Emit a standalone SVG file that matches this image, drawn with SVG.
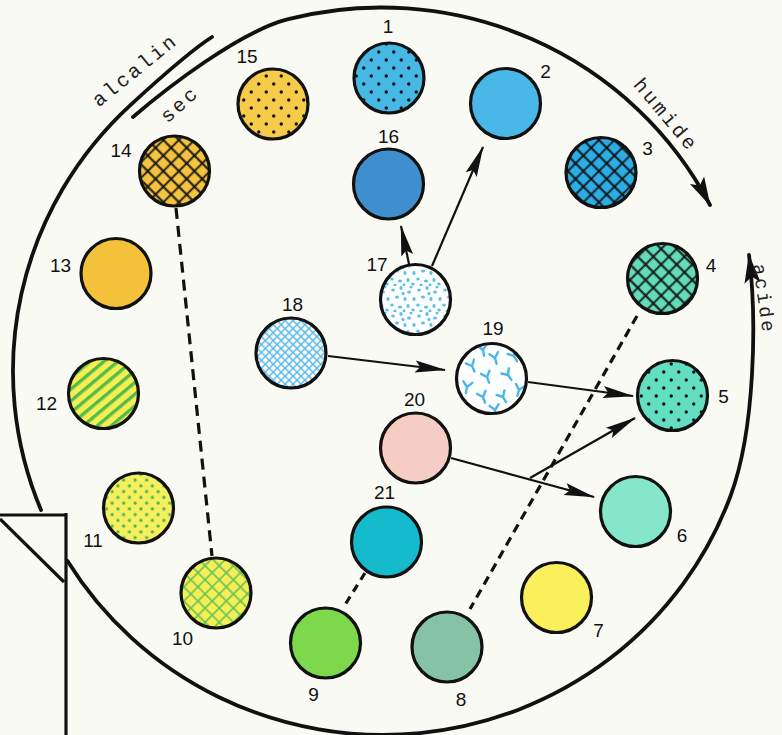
<svg xmlns="http://www.w3.org/2000/svg" width="782" height="735" viewBox="0 0 782 735">
<style>
.ring{fill:none;stroke:#111;stroke-width:3.8;stroke-linecap:round}
.node{stroke:#111;stroke-width:3.2}
.edge{fill:none;stroke:#111;stroke-width:3.2}
.num{font-family:"Liberation Sans",Arial,sans-serif;font-size:19px;fill:#111;text-anchor:middle}
.word{font-family:"Liberation Mono","Courier New",monospace;font-size:20px;fill:#222;letter-spacing:2.8px;text-anchor:middle}
.arrow{fill:none;stroke:#111;stroke-width:2.2;marker-end:url(#ah)}
.dash{fill:none;stroke:#111;stroke-width:3.2}
.ym{fill:none;stroke:#4BB6E8;stroke-width:2.4;stroke-linecap:round;stroke-linejoin:round}
</style>
<defs>
<marker id="ah" markerUnits="userSpaceOnUse" viewBox="-32 -8 34 16" refX="0" refY="0" markerWidth="34" markerHeight="16" orient="auto">
<path d="M1,0 L-30,-6 L-25,0 L-30,6 Z" fill="#111"/>
</marker>
<marker id="ahBig" markerUnits="userSpaceOnUse" viewBox="-30 -10 32 20" refX="0" refY="0" markerWidth="32" markerHeight="20" orient="auto">
<path d="M1,0 L-28,-8 L-22,0 L-28,8 Z" fill="#111"/>
</marker>
<pattern id="dotsK" patternUnits="userSpaceOnUse" width="15" height="16">
<circle cx="3.75" cy="4" r="1.7" fill="#111"/><circle cx="11.25" cy="12" r="1.7" fill="#111"/>
</pattern>
<pattern id="hatchK" patternUnits="userSpaceOnUse" width="11" height="11" patternTransform="rotate(45)">
<path d="M0,5.5 H11 M5.5,0 V11" stroke="#111" stroke-width="1.8"/>
</pattern>
<pattern id="hatchG" patternUnits="userSpaceOnUse" width="10" height="10" patternTransform="rotate(45)">
<path d="M0,5 H10 M5,0 V10" stroke="#5CC05A" stroke-width="1.5"/>
</pattern>
<pattern id="stripeG" patternUnits="userSpaceOnUse" width="9" height="9" patternTransform="rotate(-40)">
<rect x="0" y="0" width="9" height="3.4" fill="#55BB47"/>
</pattern>
<pattern id="dotsG" patternUnits="userSpaceOnUse" width="11.5" height="11.5">
<circle cx="2.9" cy="2.9" r="1.7" fill="#4CB648"/><circle cx="8.65" cy="8.65" r="1.7" fill="#4CB648"/>
</pattern>
<pattern id="meshB" patternUnits="userSpaceOnUse" width="5.6" height="5.6" patternTransform="rotate(45)">
<path d="M0,2.8 H5.6 M2.8,0 V5.6" stroke="#55B8E8" stroke-width="1.4"/>
</pattern>
<pattern id="spk" patternUnits="userSpaceOnUse" width="26" height="26">
<g fill="#5CBFEA">
<ellipse cx="3" cy="4" rx="1.9" ry="1.5"/><ellipse cx="11" cy="2" rx="1.6" ry="2"/><ellipse cx="19" cy="6" rx="2" ry="1.5"/>
<ellipse cx="24" cy="13" rx="1.6" ry="2.1"/><ellipse cx="7" cy="11" rx="2" ry="1.6"/><ellipse cx="15" cy="13" rx="1.6" ry="2.1"/>
<ellipse cx="2" cy="19" rx="1.8" ry="1.6"/><ellipse cx="10" cy="21" rx="2.1" ry="1.5"/><ellipse cx="18" cy="20" rx="1.6" ry="1.9"/>
<ellipse cx="23" cy="24" rx="1.8" ry="1.5"/><ellipse cx="13" cy="7.5" rx="1.5" ry="1.8"/><ellipse cx="21" cy="1" rx="1.5" ry="1.4"/>
<ellipse cx="5" cy="25" rx="1.6" ry="1.5"/><ellipse cx="14" cy="25" rx="1.4" ry="1.7"/>
</g>
</pattern>
<path id="ymark" d="M-4.5,-5 L0,0 L4.5,-5 M0,0 L0,6"/>
<clipPath id="c19"><circle cx="491.5" cy="378.5" r="34"/></clipPath>
</defs>

<rect width="782" height="735" fill="#FAFAF5"/>

<g id="frame">
<path class="ring" d="M41,510 A370,364 0 0 1 130.7,104.8 C151.3,85.9 190.9,50.4 212,37"/>
<path class="ring" marker-end="url(#ahBig)" d="M133,117 C167.2,87.8 238.9,32.2 287.2,19.4 A370,364 0 0 1 710,205"/>
<path class="ring" marker-end="url(#ahBig)" d="M67.5,561 A370,364 0 0 0 730.7,495.5 C755,429.8 757,320 749,255"/>
<path class="edge" stroke-width="3" d="M0,515 H67"/>
<path class="edge" stroke-width="4" d="M66,513 V735"/>
<path class="edge" stroke-width="5" d="M0,519 L64,582"/>
<text class="word" transform="translate(139,75) rotate(-39)">alcalin</text>
<text class="word" transform="translate(184,109) rotate(-42)">sec</text>
<text class="word" transform="translate(661,119) rotate(50)">humide</text>
<text class="word" style="font-size:19px" transform="translate(758,300) rotate(82)">acide</text>
</g>

<g id="connectors">
<path class="dash" stroke-dasharray="11 7" d="M176,208 L212,556"/>
<path class="dash" stroke-dasharray="9 6" d="M637,316 L470,609"/>
<path class="dash" stroke-dasharray="8 6" d="M365,573 L343,608"/>
<path class="arrow" d="M409,264 L401,226"/>
<path class="arrow" d="M432,266 L483,147"/>
<path class="arrow" d="M328,356 L445,370"/>
<path class="arrow" d="M528,382 L633,396"/>
<path class="arrow" d="M451,458 L594,497"/>
<path class="arrow" d="M530,478 L635,418"/>
</g>

<g id="n1"><circle cx="389" cy="78" r="35" fill="#45B8E6"/><circle class="node" cx="389" cy="78" r="35" fill="url(#dotsK)"/><text class="num" x="388" y="33">1</text></g>
<g id="n2"><circle class="node" cx="505.5" cy="103.5" r="35" fill="#49B7E8"/><text class="num" x="545.5" y="78">2</text></g>
<g id="n3"><circle cx="601" cy="172.5" r="35" fill="#2AAEE5"/><circle class="node" cx="601" cy="172.5" r="35" fill="url(#hatchK)"/><text class="num" x="647.5" y="155">3</text></g>
<g id="n4"><circle cx="662.5" cy="278.5" r="35" fill="#62DCB8"/><circle class="node" cx="662.5" cy="278.5" r="35" fill="url(#hatchK)"/><text class="num" x="711" y="272">4</text></g>
<g id="n5"><circle cx="672.5" cy="395.5" r="35" fill="#62DFC2"/><circle class="node" cx="672.5" cy="395.5" r="35" fill="url(#dotsK)"/><text class="num" x="723.5" y="403">5</text></g>
<g id="n6"><circle class="node" cx="635.5" cy="511.5" r="35" fill="#86E6CA"/><text class="num" x="682" y="542">6</text></g>
<g id="n7"><circle class="node" cx="556.5" cy="597.5" r="35" fill="#FAF05C"/><text class="num" x="598.5" y="637">7</text></g>
<g id="n8"><circle class="node" cx="447" cy="647" r="35" fill="#86C3A6"/><text class="num" x="461" y="706">8</text></g>
<g id="n9"><circle class="node" cx="325.5" cy="643" r="35" fill="#7DD84C"/><text class="num" x="313.5" y="701">9</text></g>
<g id="n10"><circle cx="216" cy="593" r="35" fill="#F5EF55"/><circle class="node" cx="216" cy="593" r="35" fill="url(#hatchG)"/><text class="num" x="182.5" y="645">10</text></g>
<g id="n11"><circle cx="138.5" cy="508" r="35" fill="#F6F060"/><circle class="node" cx="138.5" cy="508" r="35" fill="url(#dotsG)"/><text class="num" x="93" y="547">11</text></g>
<g id="n12"><circle cx="103.5" cy="393.5" r="35" fill="#F5EF55"/><circle class="node" cx="103.5" cy="393.5" r="35" fill="url(#stripeG)"/><text class="num" x="46.5" y="410">12</text></g>
<g id="n13"><circle class="node" cx="116" cy="273.5" r="35" fill="#F3C13A"/><text class="num" x="60.5" y="272">13</text></g>
<g id="n14"><circle cx="174.5" cy="171" r="35" fill="#F4C43E"/><circle class="node" cx="174.5" cy="171" r="35" fill="url(#hatchK)"/><text class="num" x="121" y="157">14</text></g>
<g id="n15"><circle cx="273" cy="104" r="35" fill="#F6CB4A"/><circle class="node" cx="273" cy="104" r="35" fill="url(#dotsK)"/><text class="num" x="247" y="63">15</text></g>
<g id="n16"><circle class="node" cx="388.5" cy="184" r="35" fill="#3F8FCF"/><text class="num" x="388.5" y="143">16</text></g>
<g id="n17"><circle cx="415.5" cy="299.5" r="35" fill="#FDFEFE"/><circle class="node" cx="415.5" cy="299.5" r="35" fill="url(#spk)"/><text class="num" x="377" y="271">17</text></g>
<g id="n18"><circle cx="291" cy="353" r="35" fill="#FDFEFE"/><circle class="node" cx="291" cy="353" r="35" fill="url(#meshB)"/><text class="num" x="292.5" y="311">18</text></g>
<g id="n19"><circle cx="491.5" cy="378.5" r="35" fill="#FDFEFE"/>
<g class="ym" clip-path="url(#c19)">
<use href="#ymark" transform="translate(483,350) rotate(-10)"/>
<use href="#ymark" transform="translate(472,366) rotate(-25)"/>
<use href="#ymark" transform="translate(495,358) rotate(-15)"/>
<use href="#ymark" transform="translate(514,356) rotate(-30)"/>
<use href="#ymark" transform="translate(487,377) rotate(-20)"/>
<use href="#ymark" transform="translate(508,375) rotate(-35)"/>
<use href="#ymark" transform="translate(467,387) rotate(10)"/>
<use href="#ymark" transform="translate(483,397) rotate(-20)"/>
<use href="#ymark" transform="translate(503,397) rotate(-30)"/>
<use href="#ymark" transform="translate(519,390) rotate(15)"/>
<use href="#ymark" transform="translate(495,410) rotate(-10)"/>
</g>
<circle class="node" cx="491.5" cy="378.5" r="35" fill="none"/><text class="num" x="493" y="335">19</text></g>
<g id="n20"><circle class="node" cx="415.5" cy="448" r="35" fill="#F5CDC5"/><text class="num" x="414.5" y="406">20</text></g>
<g id="n21"><circle class="node" cx="386.5" cy="542" r="35" fill="#16BACD"/><text class="num" x="384.5" y="499">21</text></g>
</svg>
